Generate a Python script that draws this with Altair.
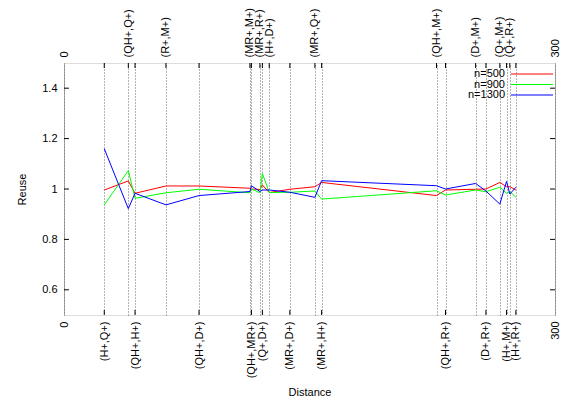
import altair as alt
import pandas as pd

# distance positions of each pair (x), their labels and which axis shows the label
dist = [24.6, 39.3, 43.4, 62.3, 82.5, 113.6, 114.5, 119.7, 121.2, 125.4, 138.0,
        153.3, 157.4, 227.6, 233.1, 251.5, 257.8, 266.3, 270.4, 272.4, 276.1]
pair_labels = ["(H+,Q+)", "(QH+,Q+)", "(QH+,H+)", "(R+,M+)", "(QH+,D+)", "(MR+,M+)",
               "(QH+,MR+)", "(MR+,R+)", "(Q+,D+)", "(H+,D+)", "(MR+,D+)", "(MR+,Q+)",
               "(MR+,H+)", "(QH+,M+)", "(QH+,R+)", "(D+,M+)", "(D+,R+)", "(Q+,M+)",
               "(H+,M+)", "(Q+,R+)", "(H+,R+)"]
label_side = ["bottom", "top", "bottom", "top", "bottom", "top", "bottom", "top", "bottom",
              "top", "bottom", "top", "bottom", "top", "bottom", "top", "bottom", "top",
              "bottom", "top", "bottom"]

n500 = [0.996, 1.032, 0.983, 1.012, 1.012, 1.003, 1.000, 0.998, 1.016, 0.986, 0.999,
        1.009, 1.026, 0.974, 0.996, 0.999, 1.000, 1.026, 1.009, 1.009, 0.996]
n900 = [0.937, 1.073, 0.963, 0.985, 0.999, 0.985, 1.000, 0.985, 1.062, 0.986, 0.987,
        0.992, 0.960, 0.993, 0.976, 0.996, 0.989, 1.007, 0.983, 0.990, 0.967]
n1300 = [1.160, 0.922, 0.983, 0.937, 0.974, 0.990, 1.013, 0.990, 0.996, 0.996, 0.987,
         0.967, 1.033, 1.013, 1.000, 1.022, 0.992, 0.940, 1.030, 0.980, 1.007]

series_names = ["n=500", "n=900", "n=1300"]
series_colors = ["#ff0000", "#00ff00", "#0000ff"]
y_ticks = [0.6, 0.8, 1.0, 1.2, 1.4]
x_domain = [0, 300]
y_domain = [0.5, 1.5]

FONT = "Liberation Sans"

rows = []
for name, vals in zip(series_names, [n500, n900, n1300]):
    for d, v in zip(dist, vals):
        rows.append({"dist": d, "reuse": v, "series": name})
df = pd.DataFrame(rows)

bottom_pos = [d for d, s in zip(dist, label_side) if s == "bottom"]
bottom_lab = [l for l, s in zip(pair_labels, label_side) if s == "bottom"]
top_pos = [d for d, s in zip(dist, label_side) if s == "top"]
top_lab = [l for l, s in zip(pair_labels, label_side) if s == "top"]


def label_expr(vals, labs):
    parts = [f"datum.value == {v} ? '{l}'" for v, l in zip(vals, labs)]
    return " : ".join(parts) + " : datum.label"


common_axis = dict(labelAngle=270, labelFont=FONT, labelFontSize=11, labelColor="black",
                   grid=True, gridDash=[1, 2], gridColor="#666666", gridWidth=1,
                   ticks=False, domain=False, labelOverlap=False, labelFlush=False,
                   labelPadding=6)

bottom_axis = alt.Axis(values=[0] + bottom_pos + [300], labelExpr=label_expr(bottom_pos, bottom_lab),
                       title="Distance", titleFont=FONT, titleFontSize=11, titleFontWeight="normal",
                       titleColor="black", titlePadding=9, **common_axis)
top_axis = alt.Axis(values=[0] + top_pos + [300], labelExpr=label_expr(top_pos, top_lab),
                    orient="top", title=None, **common_axis)
y_axis = alt.Axis(values=y_ticks, format="~g", labelFont=FONT, labelFontSize=11, labelColor="black",
                  grid=False, ticks=False, domain=False, labelPadding=7, title="Reuse",
                  titleFont=FONT, titleFontSize=11, titleFontWeight="normal", titleColor="black",
                  titlePadding=14)

xs = alt.Scale(domain=x_domain, nice=False, zero=False)
ys = alt.Scale(domain=y_domain, nice=False, zero=False)

lines = alt.Chart(df).mark_line(strokeWidth=1, clip=True).encode(
    x=alt.X("dist:Q", scale=xs, axis=bottom_axis),
    y=alt.Y("reuse:Q", scale=ys, axis=y_axis),
    color=alt.Color("series:N", scale=alt.Scale(domain=series_names, range=series_colors), legend=None),
)

bt = pd.DataFrame({"pos": bottom_pos})
bottom_ticks = alt.Chart(bt).mark_rule(color="black", strokeWidth=1).encode(
    x=alt.X("pos:Q", scale=xs), y=alt.datum(0.5), y2=alt.datum(0.52)
)
yt = pd.DataFrame({"v": y_ticks})
left_ticks = alt.Chart(yt).mark_rule(color="black", strokeWidth=1).encode(
    y=alt.Y("v:Q", scale=ys), x=alt.datum(0), x2=alt.datum(3)
)
right_ticks = alt.Chart(yt).mark_rule(color="black", strokeWidth=1).encode(
    y=alt.Y("v:Q", scale=ys), x=alt.datum(297), x2=alt.datum(300)
)

main = alt.layer(lines, bottom_ticks, left_ticks, right_ticks)

tt = pd.DataFrame({"pos": dist})
top_layer = alt.Chart(tt).mark_rule(color="black", strokeWidth=1).encode(
    x=alt.X("pos:Q", scale=xs, axis=top_axis), y=alt.datum(1.5), y2=alt.datum(1.48)
)

legend_layers = []
dummy = pd.DataFrame({"k": [0]})
for i, (name, col) in enumerate(zip(series_names, series_colors)):
    yy = 11 + 10.5 * i
    legend_layers.append(alt.Chart(dummy).mark_text(align="right", baseline="middle", font=FONT,
                                                     fontSize=11, color="black").encode(
        x=alt.value(441), y=alt.value(yy), text=alt.value(name)))
    legend_layers.append(alt.Chart(dummy).mark_rule(color=col, strokeWidth=1).encode(
        x=alt.value(447), x2=alt.value(489), y=alt.value(yy)))

chart = alt.layer(main, top_layer, *legend_layers).resolve_scale(x="independent").properties(
    width=491, height=252,
    autosize=alt.AutoSizeParams(type="none"),
    padding={"left": 56, "top": 55, "right": 10, "bottom": 88},
).configure_view(stroke="black", strokeWidth=1).configure(background="white")

chart.save("out.html", embed_options={"renderer": "svg", "actions": False})
